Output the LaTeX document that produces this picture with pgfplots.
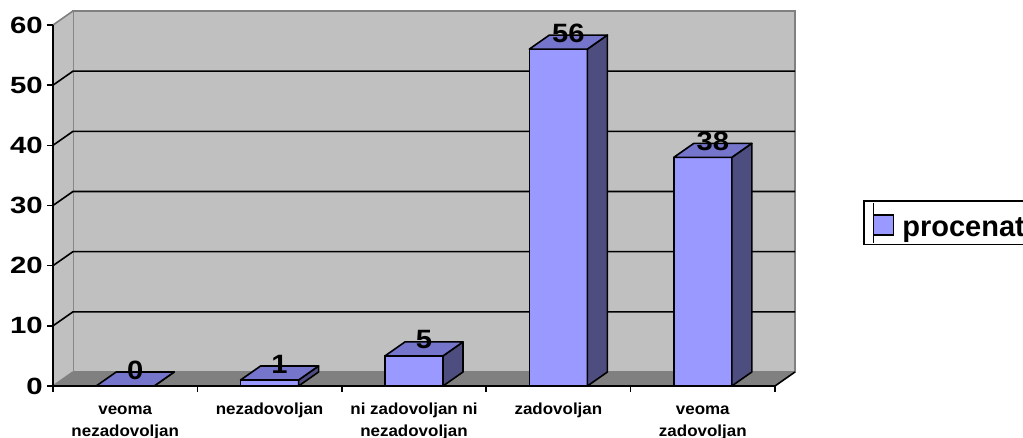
\documentclass[border=0pt]{standalone}
\usepackage{fontspec}
\setmainfont{Liberation Sans}
\newfontfamily\ywide[FakeStretch=1.25]{Liberation Sans}
\newfontfamily\dwide[FakeStretch=1.1]{Liberation Sans}
\newfontfamily\cwide[FakeStretch=1.06]{Liberation Sans}
\usepackage{pgfplots}
\pgfplotsset{compat=1.18}
\usepackage{pgfplotstable}
\definecolor{barfront}{HTML}{9999FF}
\definecolor{bartop}{HTML}{7575CC}
\definecolor{barside}{HTML}{4D4D80}
\definecolor{wall}{HTML}{C0C0C0}
\definecolor{floorc}{HTML}{808080}
\definecolor{edge}{HTML}{808080}
\pgfplotstableread{
x y lab
0 0 0
1 1 1
2 5 5
3 56 56
4 38 38
}\data
\begin{document}
\begin{tikzpicture}
\begin{axis}[
  set layers,
  at={(53pt,52pt)}, anchor=south west,
  scale only axis, width=722pt, height=361pt,
  xmin=-0.5, xmax=4.5, ymin=0, ymax=60,
  clip=false,
  axis x line*=bottom, axis y line*=left,
  axis line style={black, line width=1.6pt},
  xtick={-0.5,0.5,...,4.5},
  x tick label as interval,
  xticklabels={{\vphantom{d}veoma\\nezadovoljan},nezadovoljan,{ni zadovoljan ni\\nezadovoljan},zadovoljan,{\vphantom{d}veoma\\zadovoljan}},
  ytick={0,10,...,60},
  tick align=outside, major tick length=6pt,
  tick style={black, line width=1.6pt},
  /pgf/number format/assume math mode=true,
  yticklabel style={font=\ywide\bfseries\fontsize{23.5}{23.5}\selectfont, inner sep=0pt, anchor=east, xshift=-4pt},
  xticklabel style={font=\cwide\bfseries\fontsize{16}{22.5}\selectfont, align=center, anchor=north, inner sep=0pt, yshift=-10.3pt},
  legend style={at={(axis description cs:1.1219,0.452)}, anchor=west, draw=black, line width=1.6pt,
    inner xsep=9pt, inner ysep=1pt, column sep=8pt,
    font=\bfseries\fontsize{29}{29}\selectfont, nodes={inner sep=0pt}},
  legend image code/.code={\path (0pt,-14.5pt) -- (0pt,25.1pt);
    \draw[fill=barfront, draw=black, line width=1.5pt] (0pt,-6.7pt) rectangle (20pt,13.3pt);},
]
\begin{pgfonlayer}{axis background}
  \fill[floorc] (axis cs:-0.5,0) -- (axis cs:4.5,0) -- ([shift={(20pt,14pt)}]axis cs:4.5,0) -- ([shift={(20pt,14pt)}]axis cs:-0.5,0) -- cycle;
  \filldraw[fill=wall, draw=edge, line width=1.6pt] ([shift={(20pt,14pt)}]axis cs:-0.5,0) rectangle ([shift={(20pt,14pt)}]axis cs:4.5,60);
  \fill[wall] (axis cs:-0.5,0) -- ([shift={(20pt,14pt)}]axis cs:-0.5,0) -- ([shift={(20pt,14pt)}]axis cs:-0.5,60) -- (axis cs:-0.5,60) -- cycle;
  \draw[edge, line width=1.6pt] (axis cs:-0.5,60) -- ([shift={(20pt,14pt)}]axis cs:-0.5,60);
  \draw[edge, line width=1.6pt] (axis cs:-0.5,0) -- ([shift={(20pt,14pt)}]axis cs:-0.5,0);
  \draw[black, line width=1.6pt] (axis cs:4.5,0) -- ([shift={(20pt,14pt)}]axis cs:4.5,0);
  \pgfplotsinvokeforeach{10,20,30,40,50}{
    \draw[black, line width=1.6pt] (axis cs:-0.5,#1) -- ([shift={(20pt,14pt)}]axis cs:-0.5,#1) -- ([shift={(20pt,14pt)}]axis cs:4.5,#1);
  }
\end{pgfonlayer}
\addplot[ybar, bar width=58pt, fill=barfront, draw=black, line width=1.6pt] table[x=x,y=y]{\data};
\addlegendentry{procenat}
\addplot[black, scatter, only marks, mark=*, mark size=0pt, point meta=y, forget plot,
  scatter/@pre marker code/.code={%
    \pgfmathfloattofixed{\pgfplotspointmeta}\let\mv\pgfmathresult
    \pgfmathsetmacro{\hh}{-6.01667*\mv}%
    \pgfmathsetmacro{\yb}{14-6.01667*\mv}%
    \filldraw[fill=barside, draw=black, line width=1.6pt, line join=round] (29pt,0pt) -- (49pt,14pt) -- (49pt,\yb pt) -- (29pt,\hh pt) -- cycle;
    \filldraw[fill=bartop, draw=black, line width=1.6pt, line join=round] (-29pt,0pt) -- (29pt,0pt) -- (49pt,14pt) -- (-9pt,14pt) -- cycle;
  },
  scatter/@post marker code/.code={}]
  table[x=x,y=y]{\data};
\addplot[draw=none, forget plot, nodes near coords, point meta=explicit symbolic,
  every node near coord/.append style={font=\dwide\bfseries\fontsize{26.5}{26.5}\selectfont, anchor=center, xshift=10pt, yshift=16pt, inner sep=0pt, text=black}]
  table[x=x,y=y,meta=lab]{\data};
\end{axis}
\pgfresetboundingbox
\useasboundingbox (0,0) rectangle (1023pt,438pt);
\end{tikzpicture}
\end{document}
